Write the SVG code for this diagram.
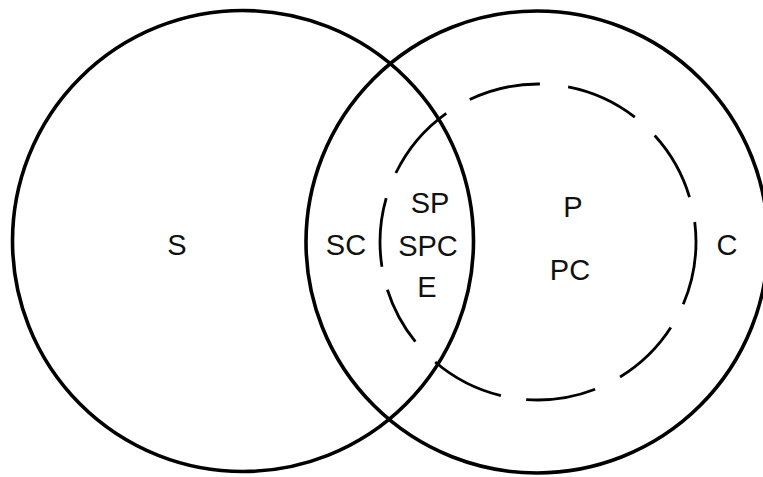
<svg xmlns="http://www.w3.org/2000/svg" width="763" height="477" viewBox="0 0 763 477">
  <style>
    .ring { fill: none; stroke: #000; stroke-width: 3.6; }
    .dash { fill: none; stroke: #000; stroke-width: 2.8; stroke-linecap: butt; }
    .lbl { font-family: "Liberation Sans", Arial, sans-serif; font-size: 29px; fill: #111; text-anchor: middle; }
  </style>
  <rect width="763" height="477" fill="#fff"/>
  <g id="set-s">
    <circle class="ring" cx="243" cy="241" r="230.5"/>
    <text class="lbl" x="177" y="255">S</text>
  </g>
  <g id="set-c">
    <circle class="ring" cx="537" cy="242" r="231"/>
    <text class="lbl" x="727" y="255">C</text>
  </g>
  <g id="set-p">
    <!-- hand-spaced dashes, measured in degrees along the ring -->
    <circle class="dash" cx="538" cy="242" r="158" pathLength="360"
      stroke-dasharray="23.2 9.6 25.9 10.1 25.5 9.3 27 10.3 21.5 8.6 25.1 9.8 28.6 9.9 26.3 10.3 26.8 9.8 25.9 9.2 7.3"/>
    <text class="lbl" x="573" y="217">P</text>
    <text class="lbl" x="570" y="280">PC</text>
  </g>
  <g id="overlap">
    <text class="lbl" x="346" y="255">SC</text>
    <text class="lbl" x="430" y="213">SP</text>
    <text class="lbl" x="428" y="256">SPC</text>
    <text class="lbl" x="427" y="297">E</text>
  </g>
</svg>
